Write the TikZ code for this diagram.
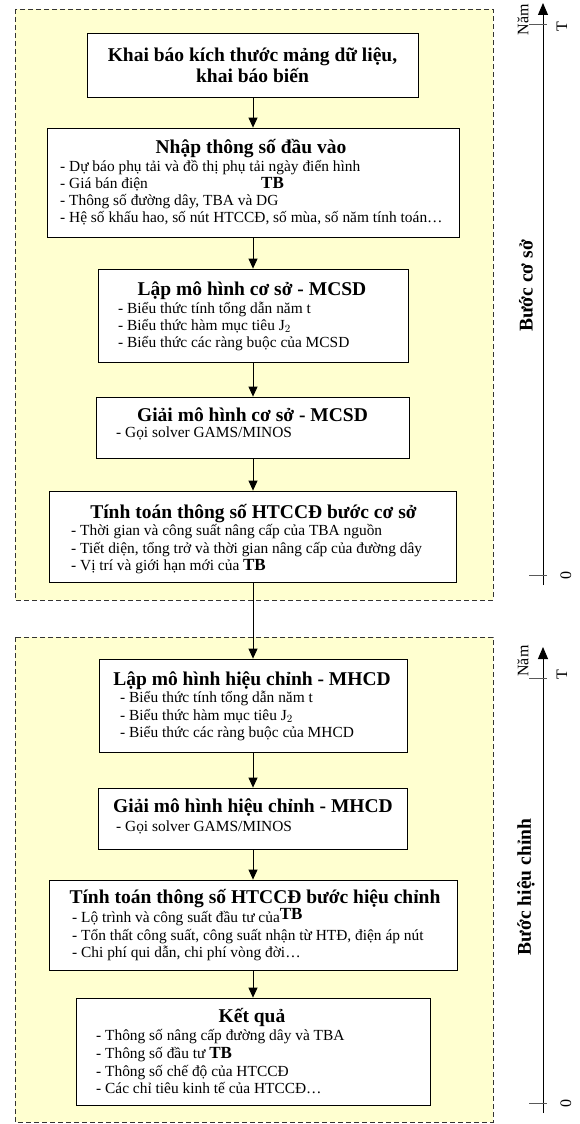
\documentclass[tikz,border=0pt]{standalone}
\usepackage{fontspec}
\setmainfont{Liberation Serif}
\usetikzlibrary{arrows.meta}
\definecolor{panelfill}{RGB}{255,255,208}
\begin{document}
\begin{tikzpicture}[x=1pt,y=-1pt,
  panel/.style={draw=black!80, dash pattern=on 5pt off 3pt, fill=panelfill, line width=0.8pt},
  box/.style={draw, fill=white, line width=0.8pt, inner sep=0pt, anchor=center},
  ttl/.style={font=\fontsize{19.5}{22}\selectfont\bfseries, inner sep=0pt, anchor=base},
  item/.style={font=\fontsize{15.4}{17}\selectfont, inner sep=0pt, anchor=base west},
  flow/.style={-{Triangle[length=10pt,width=9pt]}, line width=0.8pt},
  axisline/.style={-{Triangle[length=12pt,width=10pt]}, line width=0.9pt},
  tick/.style={line width=0.9pt, draw=black!65},
  axlbl/.style={font=\fontsize{16}{18}\selectfont, inner sep=0pt, rotate=90, anchor=center},
  axttl/.style={font=\fontsize{19.5}{22}\selectfont\bfseries, inner sep=0pt, rotate=90, anchor=center}
]
\useasboundingbox (0,0) rectangle (579,1124);
\newcommand{\tbb}{{\fontsize{17}{18}\selectfont\bfseries TB}}

% panels
\path[panel] (15,9) rectangle (493,600);
\path[panel] (15,637) rectangle (493,1122);

% boxes
\node[box, minimum width=331pt, minimum height=64pt] (b1) at (253,65) {};
\node[box, minimum width=412pt, minimum height=109pt] (b2) at (253,182.5) {};
\node[box, minimum width=310pt, minimum height=93pt] (b3) at (253,315.5) {};
\node[box, minimum width=313pt, minimum height=61pt] (b4) at (253,427.5) {};
\node[box, minimum width=407pt, minimum height=91pt] (b5) at (253,536.5) {};
\node[box, minimum width=308pt, minimum height=93pt] (b6) at (253,705.5) {};
\node[box, minimum width=309pt, minimum height=61pt] (b7) at (253,818.5) {};
\node[box, minimum width=408pt, minimum height=90pt] (b8) at (253,925) {};
\node[box, minimum width=354pt, minimum height=107pt] (b9) at (253,1051.5) {};

% box 1
\node[ttl] (t1a) at (252.5,61.5) {Khai báo kích thước mảng dữ liệu,};
\node[ttl] (t1b) at (252.5,82) {khai báo biến};

% box 2
\node[ttl] (t2) at (251,153.5) {Nhập thông số đầu vào};
\node[item] (i2a) at (60,171.5) {- Dự báo phụ tải và đồ thị phụ tải ngày điển hình};
\node[item] (i2b) at (60,188.5) {- Giá bán điện};
\node[item] (i2tb) at (261,188.5) {\tbb};
\node[item] (i2c) at (60,205.5) {- Thông số đường dây, TBA và DG};
\node[item] (i2d) at (60,222.5) {- Hệ số khấu hao, số nút HTCCĐ, số mùa, số năm tính toán…};

% box 3
\node[ttl] (t3) at (252,295.5) {Lập mô hình cơ sở - MCSD};
\node[item] (i3a) at (118,313) {- Biểu thức tính tổng dẫn năm t};
\node[item] (i3b) at (118,330.5) {- Biểu thức hàm mục tiêu J$_2$};
\node[item] (i3c) at (118,347) {- Biểu thức các ràng buộc của MCSD};

% box 4
\node[ttl] (t4) at (252.5,421.5) {Giải mô hình cơ sở - MCSD};
\node[item] (i4a) at (116,437) {- Gọi solver GAMS/MINOS};

% box 5
\node[ttl] (t5) at (253.5,518.5) {Tính toán thông số HTCCĐ bước cơ sở};
\node[item] (i5a) at (71,535) {- Thời gian và công suất nâng cấp của TBA nguồn};
\node[item] (i5b) at (71,553) {- Tiết diện, tổng trở và thời gian nâng cấp của đường dây};
\node[item] (i5c) at (71,570) {- Vị trí và giới hạn mới của \tbb};

% box 6
\node[ttl] (t6) at (252,685.5) {Lập mô hình hiệu chỉnh - MHCD};
\node[item] (i6a) at (120,702.5) {- Biểu thức tính tổng dẫn năm t};
\node[item] (i6b) at (120,720.5) {- Biểu thức hàm mục tiêu J$_2$};
\node[item] (i6c) at (120,737.5) {- Biểu thức các ràng buộc của MHCD};

% box 7
\node[ttl] (t7) at (253,812.5) {Giải mô hình hiệu chỉnh - MHCD};
\node[item] (i7a) at (116,831) {- Gọi solver GAMS/MINOS};

% box 8
\node[ttl] (t8) at (255,903.5) {Tính toán thông số HTCCĐ bước hiệu chỉnh};
\node[item] (i8a) at (72,922) {- Lộ trình và công suất đầu tư của\raisebox{3pt}{\tbb}};
\node[item] (i8b) at (72,940) {- Tổn thất công suất, công suất nhận từ HTĐ, điện áp nút};
\node[item] (i8c) at (72,957) {- Chi phí qui dẫn, chi phí vòng đời…};

% box 9
\node[ttl] (t9) at (252,1022.5) {Kết quả};
\node[item] (i9a) at (96,1040.5) {- Thông số nâng cấp đường dây và TBA};
\node[item] (i9b) at (96,1058.5) {- Thông số đầu tư \tbb};
\node[item] (i9c) at (96,1076.5) {- Thông số chế độ của HTCCĐ};
\node[item] (i9d) at (96,1093.5) {- Các chỉ tiêu kinh tế của HTCCĐ…};

% flow arrows
\draw[flow] (b1.south) -- (b2.north);
\draw[flow] (b2.south) -- (b3.north);
\draw[flow] (b3.south) -- (b4.north);
\draw[flow] (b4.south) -- (b5.north);
\draw[flow] (b5.south) -- (b6.north);
\draw[flow] (b6.south) -- (b7.north);
\draw[flow] (b7.south) -- (b8.north);
\draw[flow] (b8.south) -- (b9.north);

% axis 1
\coordinate (a1b) at (543,585);
\coordinate (a1t) at (543,3);
\coordinate (k1l) at (529,24);
\coordinate (k1r) at (547,24);
\coordinate (k0l) at (529,575);
\coordinate (k0r) at (547,575);
\draw[axisline] (a1b) -- (a1t);
\draw[tick] (k1l) -- (k1r);
\draw[tick] (k0l) -- (k0r);
\node[axlbl] (n1) at (523,20) {Năm};
\node[axlbl] (T1) at (562,27) {T};
\node[axlbl] (z1) at (566,575) {0};
\node[axttl] (s1) at (526,286) {Bước cơ sở};

% axis 2
\coordinate (a2b) at (543,1113);
\coordinate (a2t) at (543,647);
\coordinate (k2l) at (529,678);
\coordinate (k2r) at (547,678);
\coordinate (k3l) at (529,1103);
\coordinate (k3r) at (547,1103);
\draw[axisline] (a2b) -- (a2t);
\draw[tick] (k2l) -- (k2r);
\draw[tick] (k3l) -- (k3r);
\node[axlbl] (n2) at (523,661) {Năm};
\node[axlbl] (T2) at (562,675) {T};
\node[axlbl] (z2) at (566,1103) {0};
\node[axttl] (s2) at (526,887) {Bước hiệu chỉnh};
\end{tikzpicture}
\end{document}
